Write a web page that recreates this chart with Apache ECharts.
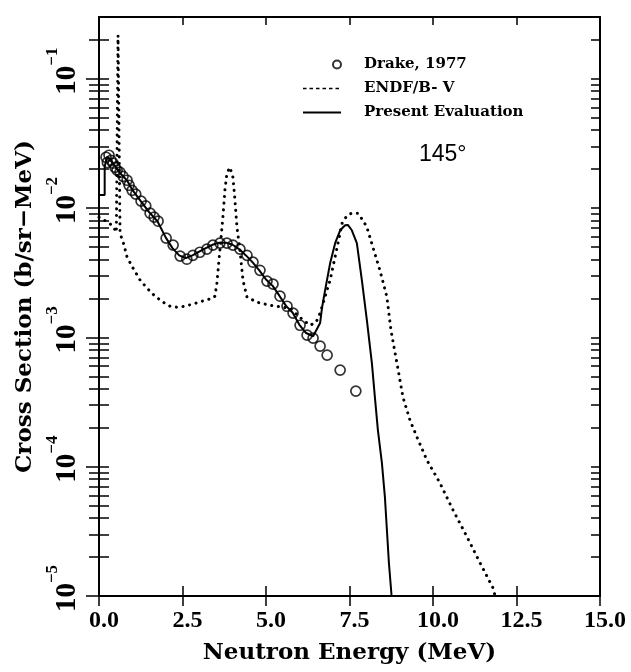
<!DOCTYPE html>
<html><head><meta charset="utf-8">
<script src="https://cdn.jsdelivr.net/npm/echarts@6/dist/echarts.min.js"></script>
<style>html,body{margin:0;padding:0;background:#fff}#c{width:631px;height:672px}</style>
</head><body><div id="c"></div>
<script>
// ---- data ----
const drakeE = [0.21,0.25,0.30,0.36,0.42,0.48,0.54,0.63,0.72,0.84,0.90,0.99,1.10,1.26,1.40,1.53,1.65,1.77,2.01,2.22,2.43,2.63,2.81,3.02,3.23,3.41,3.62,3.83,4.01,4.22,4.43,4.61,4.82,5.03,5.21,5.42,5.63,5.81,6.02,6.23,6.41,6.62,6.83,7.22,7.69];
const drakeV = [0.0247,0.0225,0.0256,0.0234,0.0222,0.0206,0.0196,0.0189,0.0176,0.0164,0.0150,0.0137,0.0128,0.0113,0.0104,0.00912,0.0085,0.00791,0.00585,0.00517,0.00425,0.00402,0.00431,0.00455,0.00481,0.00517,0.00535,0.00535,0.00517,0.00481,0.00431,0.00381,0.00330,0.00272,0.00258,0.00208,0.00174,0.00154,0.00124,0.00104,0.000986,0.000855,0.000728,0.000558,0.000384];

const endfE = [0.0,0.27,0.42,0.52,0.57,0.63,0.75,0.84,1.02,1.23,1.44,1.68,1.92,2.13,2.34,2.57,2.81,3.11,3.41,3.47,3.53,3.62,3.71,3.77,3.83,3.92,4.01,4.07,4.13,4.22,4.31,4.43,4.73,5.12,5.51,5.72,6.11,6.32,6.50,6.62,6.71,6.92,7.13,7.28,7.43,7.57,7.75,7.90,8.02,8.20,8.41,8.62,8.74,8.92,9.10,9.31,9.52,9.82,10.21,10.60,11.02,11.41,11.80,11.86];
const endfV = [0.00849,0.00776,0.00722,0.0065,0.216,0.00638,0.00517,0.00417,0.00343,0.00277,0.0024,0.00208,0.00187,0.00174,0.00171,0.00174,0.00181,0.00191,0.00201,0.00208,0.00262,0.00472,0.00849,0.01374,0.01858,0.02065,0.0173,0.01148,0.00711,0.00472,0.00277,0.00205,0.00187,0.00177,0.00171,0.00168,0.00136,0.00124,0.00131,0.00154,0.00184,0.00277,0.00498,0.00764,0.00879,0.00912,0.00912,0.00805,0.00711,0.00498,0.0033,0.00205,0.00114,0.000633,0.000345,0.000229,0.000169,0.000112,7.46e-5,4.62e-5,2.86e-5,1.8e-5,1.15e-5,1.0e-5];

const presE = [0.0,0.17,0.17,0.25,0.4,0.6,0.85,1.0,1.25,1.5,1.75,2.0,2.2,2.4,2.6,2.8,3.0,3.2,3.4,3.6,3.8,4.0,4.2,4.4,4.6,4.8,5.0,5.2,5.4,5.6,5.8,6.0,6.2,6.41,6.62,6.68,6.77,6.92,7.07,7.22,7.37,7.45,7.57,7.72,7.87,8.02,8.17,8.26,8.35,8.47,8.56,8.62,8.68,8.76];
const presV = [0.0126,0.0126,0.021,0.025,0.0225,0.019,0.0162,0.0138,0.0113,0.0093,0.0079,0.0059,0.0049,0.0043,0.0041,0.0043,0.0046,0.0049,0.0052,0.0054,0.0054,0.0052,0.0048,0.0043,0.0038,0.0033,0.0028,0.0025,0.0021,0.00175,0.00155,0.00125,0.00108,0.00102,0.00129,0.00171,0.00232,0.00374,0.00535,0.00673,0.00736,0.0074,0.00673,0.00535,0.00277,0.00136,0.000633,0.000345,0.000192,0.000107,5.82e-5,3.24e-5,1.8e-5,1.0e-5];

const xTicks = [0,2.5,5,7.5,10,12.5,15];
const yMajor = [1e-5,1e-4,1e-3,1e-2,1e-1];
const yMinorMult = [2,3,4,5,6,7,8,9];
const yMinor = [];
yMajor.slice(0,4).forEach(d => yMinorMult.forEach(m => yMinor.push(+(m*d).toPrecision(3))));
yMinor.push(0.2);
const yAll = yMajor.concat(yMinor);

const names = {drake:'Drake, 1977', endf:'ENDF/B- V', pres:'Present Evaluation'};
const zip = (a,b) => a.map((v,i)=>[v,b[i]]);

const chart = echarts.init(document.getElementById('c'), null, {renderer:'canvas'});
const black = '#000';
const yBase = {type:'log', min:1e-5, max:0.3, logBase:10, splitLine:{show:false}, axisLine:{show:true, lineStyle:{color:black,width:2}}};
const xBase = {type:'value', min:0, max:15, interval:2.5, splitLine:{show:false}, axisLine:{show:true, onZero:false, lineStyle:{color:black,width:2}}};
const noSym = {color:'rgba(0,0,0,0)', borderWidth:0};

chart.setOption({
  animation:false,
  backgroundColor:'#fff',
  grid:{left:99, right:31, top:17, bottom:76, containLabel:false},
  title:{text:'145°', left:414, top:138, textStyle:{fontFamily:'Liberation Sans', fontWeight:'normal', fontSize:23, color:black}},
  legend:{
    orient:'vertical', left:297, top:52, itemWidth:38, itemHeight:12, itemGap:9,
    textStyle:{fontFamily:'DejaVu Serif', fontWeight:'bold', fontSize:15, color:black, padding:[0,0,0,18]},
    data:[
      {name:names.drake, icon:'path://M0,6L0.01,6M30,6A4,4,0,1,1,38,6A4,4,0,1,1,30,6Z'},
      {name:names.endf, itemStyle:noSym, lineStyle:{type:[3.5,3], width:1.6, cap:'butt'}},
      {name:names.pres, itemStyle:noSym, lineStyle:{width:2}}
    ]
  },
  xAxis:[
    Object.assign({}, xBase, {position:'bottom',
      axisTick:{show:true, inside:false, length:10, lineStyle:{color:black,width:1.5}},
      axisLabel:{show:true, margin:13, color:black, fontFamily:'Liberation Serif', fontWeight:'bold', fontSize:24, padding:[0,0,0,10], formatter:v=>v.toFixed(1)},
      name:'Neutron Energy (MeV)', nameLocation:'middle', nameGap:46,
      nameTextStyle:{fontFamily:'DejaVu Serif', fontWeight:'bold', fontSize:23, color:black}}),
    Object.assign({}, xBase, {position:'bottom',
      axisTick:{show:true, inside:true, length:10, lineStyle:{color:black,width:1.5}}, axisLabel:{show:false}}),
    Object.assign({}, xBase, {position:'top',
      axisTick:{show:true, inside:true, length:8, lineStyle:{color:black,width:1.5}}, axisLabel:{show:false}})
  ],
  yAxis:[
    Object.assign({}, yBase, {position:'left',
      axisTick:{show:true, inside:false, length:13, customValues:yMajor, lineStyle:{color:black,width:1.5}},
      axisLabel:{show:true, customValues:yMajor, rotate:90, margin:16.5, color:black,
        formatter:v=>'{s|}{b|10}{e|−'+Math.round(-Math.log10(v))+'}',
        rich:{
          s:{width:15, height:10},
          b:{fontFamily:'Liberation Serif', fontWeight:'bold', fontSize:29, lineHeight:38, verticalAlign:'bottom', color:black},
          e:{fontFamily:'Liberation Serif', fontWeight:'bold', fontSize:17, lineHeight:17, verticalAlign:'top', color:black}
        }},
      name:'Cross Section (b/sr−MeV)', nameLocation:'middle', nameGap:62,
      nameTextStyle:{fontFamily:'DejaVu Serif', fontWeight:'bold', fontSize:23, color:black}}),
    Object.assign({}, yBase, {position:'left',
      axisTick:{show:true, inside:false, length:10, customValues:yMinor, lineStyle:{color:black,width:1.5}}, axisLabel:{show:false}}),
    Object.assign({}, yBase, {position:'left',
      axisTick:{show:true, inside:true, length:10, customValues:yAll, lineStyle:{color:black,width:1.5}}, axisLabel:{show:false}}),
    Object.assign({}, yBase, {position:'right',
      axisTick:{show:true, inside:true, length:9, customValues:yAll, lineStyle:{color:black,width:1.5}}, axisLabel:{show:false}})
  ],
  series:[
    {name:names.drake, type:'scatter', xAxisIndex:0, yAxisIndex:0, data:zip(drakeE,drakeV),
      symbol:'circle', symbolSize:10, itemStyle:{color:'rgba(0,0,0,0)', borderColor:black, borderWidth:1.7}, z:4},
    {name:names.endf, type:'line', xAxisIndex:0, yAxisIndex:0, data:zip(endfE,endfV), showSymbol:false, symbol:'none',
      lineStyle:{color:black, width:3, type:[0.1,6.6], cap:'round'}, itemStyle:{color:black}, z:2},
    {name:names.pres, type:'line', xAxisIndex:0, yAxisIndex:0, data:zip(presE,presV), showSymbol:false, symbol:'none',
      lineStyle:{color:black, width:2}, itemStyle:{color:black}, z:3}
  ]
});
</script></body></html>
